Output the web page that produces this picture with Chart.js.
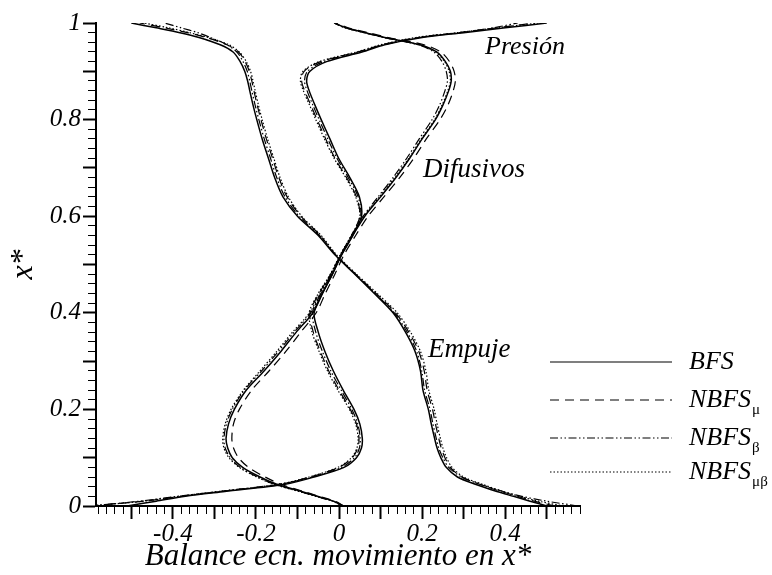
<!DOCTYPE html>
<html>
<head>
<meta charset="utf-8">
<script src="https://cdn.jsdelivr.net/npm/chart.js@4.4.1/dist/chart.umd.min.js"></script>
<style>
  body { margin: 0; background: #fff; }
  #wrap { position: relative; width: 772px; height: 575px; }
  #balance { position: absolute; left: 0; top: 0; }
  #key { position: absolute; left: 0; top: 0; pointer-events: none; }
  .lbl { position: absolute; font-family: 'Liberation Serif', 'Times New Roman', serif; font-style: italic;
         color: #000; line-height: 1; white-space: nowrap; }
  .lbl sub { font-size: 15px; font-style: normal; vertical-align: -7px; line-height: 0; margin-left: 1px; }
</style>
</head>
<body>
<div id="wrap">
  <canvas id="balance" width="772" height="575"></canvas>
  <svg id="key" width="772" height="575"></svg>
</div>
<script>
// x* levels shared by every profile
var xStar = [0, 0.01, 0.02, 0.03, 0.045, 0.06, 0.08, 0.1, 0.12, 0.14, 0.17, 0.2, 0.24, 0.28, 0.32, 0.36, 0.4, 0.44, 0.48,
  0.52, 0.56, 0.6, 0.64, 0.68, 0.72, 0.76, 0.8, 0.83, 0.86, 0.88, 0.9, 0.92, 0.94, 0.955, 0.97, 0.98, 0.99, 1];

// pressure term
var presionBFS = [-0.51, -0.44, -0.37, -0.275, -0.13, -0.06, 0.012, 0.042, 0.054, 0.056, 0.05, 0.036, 0.01, -0.014, -0.034, -0.05, -0.06, -0.04, -0.016,
  0.006, 0.033, 0.054, 0.049, 0.026, -0.001, -0.022, -0.043, -0.058, -0.072, -0.078, -0.07, -0.03, 0.055, 0.11, 0.2, 0.3, 0.4, 0.5];
var presionMu = [-0.6, -0.47, -0.38, -0.285, -0.14, -0.07, 0.0, 0.032, 0.045, 0.048, 0.042, 0.027, 0.0, -0.025, -0.045, -0.062, -0.07, -0.048, -0.02,
  0.004, 0.03, 0.05, 0.042, 0.018, -0.01, -0.032, -0.053, -0.068, -0.083, -0.09, -0.084, -0.045, 0.045, 0.105, 0.19, 0.29, 0.38, 0.47];
var presionBeta = [-0.6, -0.48, -0.39, -0.29, -0.145, -0.065, 0.006, 0.037, 0.049, 0.051, 0.045, 0.031, 0.005, -0.02, -0.04, -0.056, -0.064, -0.043, -0.018,
  0.005, 0.032, 0.052, 0.046, 0.022, -0.005, -0.027, -0.048, -0.063, -0.077, -0.083, -0.076, -0.038, 0.05, 0.108, 0.195, 0.29, 0.37, 0.43];
var presionMuBeta = [-0.6, -0.47, -0.385, -0.29, -0.145, -0.072, -0.003, 0.03, 0.043, 0.046, 0.04, 0.025, -0.003, -0.028, -0.048, -0.065, -0.072, -0.05, -0.021,
  0.003, 0.03, 0.05, 0.04, 0.016, -0.012, -0.035, -0.056, -0.071, -0.086, -0.093, -0.087, -0.048, 0.042, 0.1, 0.185, 0.285, 0.38, 0.48];

// diffusive terms
var difusivosBFS = [0.01, -0.013, -0.052, -0.09, -0.15, -0.19, -0.232, -0.257, -0.268, -0.272, -0.266, -0.252, -0.223, -0.18, -0.14, -0.103, -0.063, -0.04, -0.016,
  0.006, 0.033, 0.062, 0.1, 0.137, 0.17, 0.2, 0.232, 0.25, 0.264, 0.27, 0.268, 0.256, 0.235, 0.195, 0.11, 0.064, 0.017, -0.01];
var difusivosMu = [0.012, -0.01, -0.048, -0.085, -0.14, -0.178, -0.218, -0.242, -0.254, -0.258, -0.254, -0.24, -0.21, -0.168, -0.128, -0.092, -0.055, -0.033, -0.01,
  0.012, 0.04, 0.07, 0.108, 0.146, 0.18, 0.21, 0.243, 0.262, 0.275, 0.28, 0.277, 0.266, 0.245, 0.205, 0.118, 0.07, 0.022, -0.005];
var difusivosBeta = [0.012, -0.015, -0.055, -0.095, -0.155, -0.196, -0.238, -0.262, -0.274, -0.277, -0.271, -0.257, -0.228, -0.186, -0.146, -0.108, -0.068, -0.044, -0.019,
  0.004, 0.03, 0.058, 0.094, 0.13, 0.163, 0.193, 0.224, 0.242, 0.255, 0.261, 0.258, 0.248, 0.228, 0.19, 0.108, 0.06, 0.014, -0.012];
var difusivosMuBeta = [0.008, -0.016, -0.056, -0.096, -0.157, -0.198, -0.24, -0.265, -0.277, -0.28, -0.274, -0.26, -0.23, -0.19, -0.15, -0.112, -0.071, -0.046, -0.02,
  0.003, 0.03, 0.06, 0.097, 0.134, 0.168, 0.198, 0.23, 0.248, 0.262, 0.268, 0.265, 0.254, 0.232, 0.192, 0.108, 0.062, 0.015, -0.01];

// buoyancy term
var empujeBFS = [0.5, 0.46, 0.42, 0.38, 0.328, 0.285, 0.258, 0.245, 0.236, 0.23, 0.222, 0.215, 0.202, 0.196, 0.183, 0.16, 0.13, 0.085, 0.038,
  -0.01, -0.05, -0.1, -0.135, -0.155, -0.17, -0.185, -0.198, -0.207, -0.215, -0.22, -0.227, -0.238, -0.255, -0.286, -0.337, -0.383, -0.44, -0.5];
var empujeMu = [0.52, 0.47, 0.43, 0.39, 0.338, 0.295, 0.268, 0.255, 0.246, 0.24, 0.232, 0.225, 0.212, 0.205, 0.192, 0.168, 0.136, 0.089, 0.04,
  -0.008, -0.045, -0.092, -0.125, -0.145, -0.16, -0.175, -0.188, -0.197, -0.205, -0.21, -0.216, -0.226, -0.242, -0.27, -0.32, -0.365, -0.42, -0.48];
var empujeBeta = [0.575, 0.5, 0.44, 0.395, 0.34, 0.295, 0.264, 0.25, 0.24, 0.234, 0.226, 0.219, 0.206, 0.199, 0.187, 0.164, 0.133, 0.087, 0.039,
  -0.009, -0.047, -0.096, -0.13, -0.15, -0.165, -0.18, -0.193, -0.202, -0.21, -0.215, -0.221, -0.231, -0.246, -0.27, -0.31, -0.34, -0.38, -0.42];
var empujeMuBeta = [0.54, 0.48, 0.435, 0.395, 0.345, 0.3, 0.272, 0.259, 0.25, 0.244, 0.236, 0.229, 0.216, 0.209, 0.196, 0.172, 0.14, 0.092, 0.042,
  -0.006, -0.043, -0.09, -0.122, -0.142, -0.157, -0.172, -0.185, -0.194, -0.202, -0.207, -0.213, -0.223, -0.24, -0.265, -0.315, -0.36, -0.41, -0.47];

var seriesNames = ['BFS', 'NBFS', 'NBFS', 'NBFS'];
var seriesSubs = ['', 'μ', 'β', 'μβ'];
var seriesDash = [[], [9, 6], [8, 2.5, 1.5, 2.5, 1.5, 2.5], [1.5, 2]];
var seriesWidth = [1.5, 1.2, 1.2, 1.2];

var terms = [
  [presionBFS, presionMu, presionBeta, presionMuBeta],
  [difusivosBFS, difusivosMu, difusivosBeta, difusivosMuBeta],
  [empujeBFS, empujeMu, empujeBeta, empujeMuBeta]
];

var serif = "'Liberation Serif', 'Times New Roman', serif";

var datasets = [];
terms.forEach(function (term) {
  term.forEach(function (vals, s) {
    datasets.push({
      label: seriesNames[s] + seriesSubs[s],
      data: xStar.map(function (y, i) { return { x: vals[i], y: y }; }),
      showLine: true,
      borderColor: '#000',
      borderWidth: seriesWidth[s],
      borderDash: seriesDash[s],
      pointRadius: 0,
      tension: 0.3,
      fill: false
    });
  });
});

// ticks every 0.02, long ticks every 0.1, numbers every 0.2
function isMajor(v) { return Math.round(v * 50) % 5 === 0; }
function tickText(v) { return Math.round(v * 50) % 10 === 0 ? String(Math.round(v * 10) / 10) : ''; }

function axisGrid(minorDash) {
  return {
    drawOnChartArea: false,
    drawTicks: true,
    tickLength: 13,
    tickColor: '#000',
    tickWidth: function (c) { return c.tick && isMajor(c.tick.value) ? 2 : 1; },
    tickBorderDash: function (c) { return c.tick && isMajor(c.tick.value) ? [] : minorDash; }
  };
}

new Chart(document.getElementById('balance'), {
  type: 'scatter',
  data: { datasets: datasets },
  options: {
    responsive: false,
    animation: false,
    devicePixelRatio: 1,
    events: [],
    layout: { padding: { top: 23, right: 192, left: 0, bottom: 0 } },
    plugins: { legend: { display: false }, tooltip: { enabled: false } },
    scales: {
      x: {
        type: 'linear',
        min: -0.585,
        max: 0.58,
        border: { color: '#000', width: 2 },
        grid: axisGrid([7, 40]),
        ticks: {
          stepSize: 0.02, includeBounds: false, autoSkip: false, maxRotation: 0, minRotation: 0,
          padding: 0, color: '#000', font: { family: serif, style: 'italic', size: 25 },
          callback: tickText
        },
        title: {
          display: true, text: 'Balance ecn. movimiento en x*', color: '#000',
          font: { family: serif, style: 'italic', size: 31 }, padding: 0
        },
        afterFit: function (s) { s.height = 69; }
      },
      y: {
        type: 'linear',
        min: 0,
        max: 1,
        border: { color: '#000', width: 2 },
        grid: axisGrid([0, 5, 7, 40]),
        ticks: {
          stepSize: 0.02, includeBounds: false, autoSkip: false,
          padding: 2, color: '#000', font: { family: serif, style: 'italic', size: 25 },
          callback: tickText
        },
        title: {
          display: true, text: 'x*', color: '#000',
          font: { family: serif, style: 'italic', size: 32 }, padding: { top: 4, bottom: 0 }
        },
        afterFit: function (s) { s.width = 96; }
      }
    }
  }
});

// term names placed beside their curves
var wrap = document.getElementById('wrap');
function addText(html, left, top, size) {
  var d = document.createElement('div');
  d.className = 'lbl';
  d.style.left = left + 'px';
  d.style.top = top + 'px';
  d.style.fontSize = size + 'px';
  d.innerHTML = html;
  wrap.appendChild(d);
}
addText('Presión', 485, 33, 26);
addText('Difusivos', 423, 155, 27);
addText('Empuje', 428, 335, 27);

// line key
var svgNS = 'http://www.w3.org/2000/svg';
var key = document.getElementById('key');
var keyRows = [362, 400, 438, 472];
seriesNames.forEach(function (name, s) {
  var ln = document.createElementNS(svgNS, 'line');
  ln.setAttribute('x1', 550);
  ln.setAttribute('x2', 672);
  ln.setAttribute('y1', keyRows[s]);
  ln.setAttribute('y2', keyRows[s]);
  ln.setAttribute('stroke', '#000');
  ln.setAttribute('stroke-width', 1.2);
  if (seriesDash[s].length) ln.setAttribute('stroke-dasharray', seriesDash[s].join(' '));
  key.appendChild(ln);
  var html = name + (seriesSubs[s] ? '<sub>' + seriesSubs[s] + '</sub>' : '');
  addText(html, 689, keyRows[s] - 14, 26);
});
</script>
</body>
</html>
